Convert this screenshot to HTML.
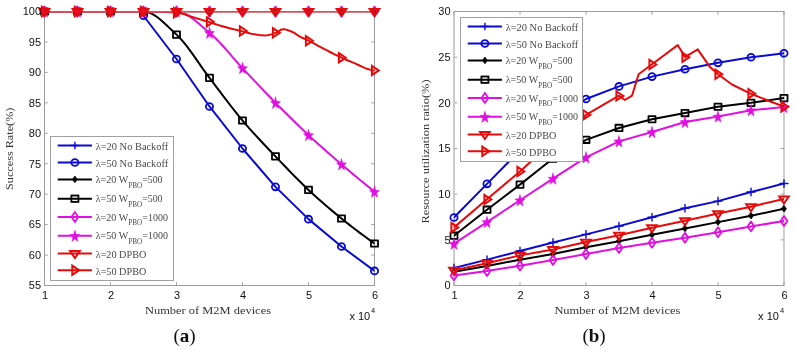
<!DOCTYPE html><html><head><meta charset="utf-8"><style>html,body{margin:0;padding:0;background:#fff;}svg{display:block;will-change:transform;}</style></head><body>
<svg width="795" height="350" viewBox="0 0 795 350">
<rect width="795" height="350" fill="#fff"/>
<clipPath id="ca"><rect x="44.5" y="12.6" width="330.0" height="272.9"/></clipPath>
<path d="M44.50 285.50h3.3M374.50 285.50h-3.3M44.50 255.06h3.3M374.50 255.06h-3.3M44.50 224.61h3.3M374.50 224.61h-3.3M44.50 194.17h3.3M374.50 194.17h-3.3M44.50 163.72h3.3M374.50 163.72h-3.3M44.50 133.28h3.3M374.50 133.28h-3.3M44.50 102.83h3.3M374.50 102.83h-3.3M44.50 72.39h3.3M374.50 72.39h-3.3M44.50 41.94h3.3M374.50 41.94h-3.3M44.50 11.50h3.3M374.50 11.50h-3.3M44.50 285.50v-3.3M44.50 11.50v3.3M110.50 285.50v-3.3M110.50 11.50v3.3M176.50 285.50v-3.3M176.50 11.50v3.3M242.50 285.50v-3.3M242.50 11.50v3.3M308.50 285.50v-3.3M308.50 11.50v3.3M374.50 285.50v-3.3M374.50 11.50v3.3" stroke="#999" stroke-width="0.9" fill="none"/>
<rect x="44.5" y="11.5" width="330.0" height="274.0" fill="none" stroke="#9c9c9c" stroke-width="1"/>
<g stroke-linejoin="round" stroke-linecap="round">
<path d="M40.50 11.50H48.50M44.50 7.70V15.30" stroke="#0a0ad2" stroke-width="1.4" fill="none"/>
<path d="M73.50 11.50H81.50M77.50 7.70V15.30" stroke="#0a0ad2" stroke-width="1.4" fill="none"/>
<path d="M106.50 11.50H114.50M110.50 7.70V15.30" stroke="#0a0ad2" stroke-width="1.4" fill="none"/>
<path d="M139.50 11.50H147.50M143.50 7.70V15.30" stroke="#0a0ad2" stroke-width="1.4" fill="none"/>
<path d="M172.50 11.50H180.50M176.50 7.70V15.30" stroke="#0a0ad2" stroke-width="1.4" fill="none"/>
<path d="M205.50 11.50H213.50M209.50 7.70V15.30" stroke="#0a0ad2" stroke-width="1.4" fill="none"/>
<path d="M238.50 11.50H246.50M242.50 7.70V15.30" stroke="#0a0ad2" stroke-width="1.4" fill="none"/>
<path d="M271.50 11.50H279.50M275.50 7.70V15.30" stroke="#0a0ad2" stroke-width="1.4" fill="none"/>
<path d="M304.50 11.50H312.50M308.50 7.70V15.30" stroke="#0a0ad2" stroke-width="1.4" fill="none"/>
<path d="M337.50 11.50H345.50M341.50 7.70V15.30" stroke="#0a0ad2" stroke-width="1.4" fill="none"/>
<path d="M370.50 11.50H378.50M374.50 7.70V15.30" stroke="#0a0ad2" stroke-width="1.4" fill="none"/>
<path clip-path="url(#ca)" d="M143.50 15.76L176.50 58.99L209.50 106.49L242.50 148.50L275.50 186.86L308.50 219.13L341.50 246.53L374.50 270.89" stroke="#0a0ad2" stroke-width="2.0" fill="none"/>
<ellipse cx="44.50" cy="11.50" rx="3.6" ry="3.4" stroke="#0a0ad2" stroke-width="1.8" fill="none"/>
<ellipse cx="77.50" cy="11.50" rx="3.6" ry="3.4" stroke="#0a0ad2" stroke-width="1.8" fill="none"/>
<ellipse cx="110.50" cy="11.50" rx="3.6" ry="3.4" stroke="#0a0ad2" stroke-width="1.8" fill="none"/>
<ellipse cx="143.50" cy="15.76" rx="3.6" ry="3.4" stroke="#0a0ad2" stroke-width="1.8" fill="none"/>
<ellipse cx="176.50" cy="58.99" rx="3.6" ry="3.4" stroke="#0a0ad2" stroke-width="1.8" fill="none"/>
<ellipse cx="209.50" cy="106.49" rx="3.6" ry="3.4" stroke="#0a0ad2" stroke-width="1.8" fill="none"/>
<ellipse cx="242.50" cy="148.50" rx="3.6" ry="3.4" stroke="#0a0ad2" stroke-width="1.8" fill="none"/>
<ellipse cx="275.50" cy="186.86" rx="3.6" ry="3.4" stroke="#0a0ad2" stroke-width="1.8" fill="none"/>
<ellipse cx="308.50" cy="219.13" rx="3.6" ry="3.4" stroke="#0a0ad2" stroke-width="1.8" fill="none"/>
<ellipse cx="341.50" cy="246.53" rx="3.6" ry="3.4" stroke="#0a0ad2" stroke-width="1.8" fill="none"/>
<ellipse cx="374.50" cy="270.89" rx="3.6" ry="3.4" stroke="#0a0ad2" stroke-width="1.8" fill="none"/>
<path d="M44.50 8.20L46.90 11.50L44.50 14.80L42.10 11.50Z" fill="#000000" stroke="#000000" stroke-width="0.8"/>
<path d="M77.50 8.20L79.90 11.50L77.50 14.80L75.10 11.50Z" fill="#000000" stroke="#000000" stroke-width="0.8"/>
<path d="M110.50 8.20L112.90 11.50L110.50 14.80L108.10 11.50Z" fill="#000000" stroke="#000000" stroke-width="0.8"/>
<path d="M143.50 8.20L145.90 11.50L143.50 14.80L141.10 11.50Z" fill="#000000" stroke="#000000" stroke-width="0.8"/>
<path d="M176.50 8.20L178.90 11.50L176.50 14.80L174.10 11.50Z" fill="#000000" stroke="#000000" stroke-width="0.8"/>
<path d="M209.50 8.20L211.90 11.50L209.50 14.80L207.10 11.50Z" fill="#000000" stroke="#000000" stroke-width="0.8"/>
<path d="M242.50 8.20L244.90 11.50L242.50 14.80L240.10 11.50Z" fill="#000000" stroke="#000000" stroke-width="0.8"/>
<path d="M275.50 8.20L277.90 11.50L275.50 14.80L273.10 11.50Z" fill="#000000" stroke="#000000" stroke-width="0.8"/>
<path d="M308.50 8.20L310.90 11.50L308.50 14.80L306.10 11.50Z" fill="#000000" stroke="#000000" stroke-width="0.8"/>
<path d="M341.50 8.20L343.90 11.50L341.50 14.80L339.10 11.50Z" fill="#000000" stroke="#000000" stroke-width="0.8"/>
<path d="M374.50 8.20L376.90 11.50L374.50 14.80L372.10 11.50Z" fill="#000000" stroke="#000000" stroke-width="0.8"/>
<path clip-path="url(#ca)" d="M44.50 11.50L47.80 11.50L51.10 11.50L54.40 11.50L57.70 11.50L61.00 11.50L64.30 11.50L67.60 11.50L70.90 11.50L74.20 11.50L77.50 11.50L80.80 11.50L84.10 11.50L87.40 11.50L90.70 11.50L94.00 11.50L97.30 11.50L100.60 11.50L103.90 11.50L107.20 11.50L110.50 11.50L113.80 11.50L117.10 11.50L120.40 11.50L123.70 11.50L127.00 11.50L130.30 11.50L133.60 11.50L136.90 11.50L140.20 11.50L143.50 11.50L146.80 11.88L150.10 12.94L153.40 14.60L156.70 16.75L160.00 19.30L163.30 22.15L166.60 25.21L169.90 28.37L173.20 31.55L176.50 34.64L179.80 37.90L183.10 41.62L186.40 45.70L189.70 50.07L193.00 54.66L196.30 59.36L199.60 64.12L202.90 68.84L206.20 73.45L209.50 77.87L212.80 82.19L216.10 86.55L219.40 90.93L222.70 95.31L226.00 99.67L229.30 103.99L232.60 108.26L235.90 112.44L239.20 116.53L242.50 120.49L245.80 124.34L249.10 128.11L252.40 131.80L255.70 135.42L259.00 138.99L262.30 142.52L265.60 146.02L268.90 149.49L272.20 152.95L275.50 156.42L278.80 159.88L282.10 163.35L285.40 166.80L288.70 170.23L292.00 173.64L295.30 177.00L298.60 180.32L301.90 183.58L305.20 186.78L308.50 189.90L311.80 192.97L315.10 195.98L318.40 198.94L321.70 201.86L325.00 204.74L328.30 207.57L331.60 210.37L334.90 213.12L338.20 215.84L341.50 218.52L345.17 221.47L348.83 224.37L352.50 227.23L356.17 230.05L359.83 232.83L363.50 235.56L367.17 238.25L370.83 240.89L374.50 243.49" stroke="#000000" stroke-width="2.0" fill="none"/>
<rect x="41.00" y="8.30" width="7" height="6.4" stroke="#000000" stroke-width="1.8" fill="none"/>
<rect x="74.00" y="8.30" width="7" height="6.4" stroke="#000000" stroke-width="1.8" fill="none"/>
<rect x="107.00" y="8.30" width="7" height="6.4" stroke="#000000" stroke-width="1.8" fill="none"/>
<rect x="140.00" y="8.30" width="7" height="6.4" stroke="#000000" stroke-width="1.8" fill="none"/>
<rect x="173.00" y="31.44" width="7" height="6.4" stroke="#000000" stroke-width="1.8" fill="none"/>
<rect x="206.00" y="74.67" width="7" height="6.4" stroke="#000000" stroke-width="1.8" fill="none"/>
<rect x="239.00" y="117.29" width="7" height="6.4" stroke="#000000" stroke-width="1.8" fill="none"/>
<rect x="272.00" y="153.22" width="7" height="6.4" stroke="#000000" stroke-width="1.8" fill="none"/>
<rect x="305.00" y="186.70" width="7" height="6.4" stroke="#000000" stroke-width="1.8" fill="none"/>
<rect x="338.00" y="215.32" width="7" height="6.4" stroke="#000000" stroke-width="1.8" fill="none"/>
<rect x="371.00" y="240.29" width="7" height="6.4" stroke="#000000" stroke-width="1.8" fill="none"/>
<path d="M44.50 6.60L47.90 11.50L44.50 16.40L41.10 11.50Z" fill="none" stroke="#e010e0" stroke-width="1.8"/>
<path d="M77.50 6.60L80.90 11.50L77.50 16.40L74.10 11.50Z" fill="none" stroke="#e010e0" stroke-width="1.8"/>
<path d="M110.50 6.60L113.90 11.50L110.50 16.40L107.10 11.50Z" fill="none" stroke="#e010e0" stroke-width="1.8"/>
<path d="M143.50 6.60L146.90 11.50L143.50 16.40L140.10 11.50Z" fill="none" stroke="#e010e0" stroke-width="1.8"/>
<path d="M176.50 6.60L179.90 11.50L176.50 16.40L173.10 11.50Z" fill="none" stroke="#e010e0" stroke-width="1.8"/>
<path d="M209.50 6.60L212.90 11.50L209.50 16.40L206.10 11.50Z" fill="none" stroke="#e010e0" stroke-width="1.8"/>
<path d="M242.50 6.60L245.90 11.50L242.50 16.40L239.10 11.50Z" fill="none" stroke="#e010e0" stroke-width="1.8"/>
<path d="M275.50 6.60L278.90 11.50L275.50 16.40L272.10 11.50Z" fill="none" stroke="#e010e0" stroke-width="1.8"/>
<path d="M308.50 6.60L311.90 11.50L308.50 16.40L305.10 11.50Z" fill="none" stroke="#e010e0" stroke-width="1.8"/>
<path d="M341.50 6.60L344.90 11.50L341.50 16.40L338.10 11.50Z" fill="none" stroke="#e010e0" stroke-width="1.8"/>
<path d="M374.50 6.60L377.90 11.50L374.50 16.40L371.10 11.50Z" fill="none" stroke="#e010e0" stroke-width="1.8"/>
<path clip-path="url(#ca)" d="M44.50 11.50L47.80 11.50L51.10 11.50L54.40 11.50L57.70 11.50L61.00 11.50L64.30 11.50L67.60 11.50L70.90 11.50L74.20 11.50L77.50 11.50L80.80 11.50L84.10 11.50L87.40 11.50L90.70 11.50L94.00 11.50L97.30 11.50L100.60 11.50L103.90 11.50L107.20 11.50L110.50 11.50L113.80 11.50L117.10 11.50L120.40 11.50L123.70 11.50L127.00 11.50L130.30 11.50L133.60 11.50L136.90 11.50L140.20 11.50L143.50 11.50L146.80 11.50L150.10 11.50L153.40 11.50L156.70 11.50L160.00 11.50L163.30 11.50L166.60 11.50L169.90 11.50L173.20 11.50L176.50 11.50L179.80 11.86L183.10 12.87L186.40 14.43L189.70 16.45L193.00 18.83L196.30 21.48L199.60 24.30L202.90 27.19L206.20 30.06L209.50 32.81L212.80 35.64L216.10 38.77L219.40 42.14L222.70 45.71L226.00 49.42L229.30 53.21L232.60 57.03L235.90 60.82L239.20 64.54L242.50 68.13L245.80 71.63L249.10 75.15L252.40 78.66L255.70 82.17L259.00 85.68L262.30 89.16L265.60 92.63L268.90 96.06L272.20 99.47L275.50 102.83L278.80 106.17L282.10 109.49L285.40 112.79L288.70 116.06L292.00 119.32L295.30 122.54L298.60 125.73L301.90 128.89L305.20 132.02L308.50 135.10L311.80 138.15L315.10 141.17L318.40 144.14L321.70 147.09L325.00 150.02L328.30 152.92L331.60 155.79L334.90 158.65L338.20 161.50L341.50 164.33L345.17 167.46L348.83 170.57L352.50 173.66L356.17 176.73L359.83 179.78L363.50 182.80L367.17 185.80L370.83 188.78L374.50 191.73" stroke="#e010e0" stroke-width="2.0" fill="none"/>
<path d="M44.50 5.90L45.78 9.99L49.45 10.18L46.58 12.90L47.56 17.12L44.50 14.70L41.44 17.12L42.42 12.90L39.55 10.18L43.22 9.99Z" fill="#e010e0" stroke="#e010e0" stroke-width="0.5"/>
<path d="M77.50 5.90L78.78 9.99L82.45 10.18L79.58 12.90L80.56 17.12L77.50 14.70L74.44 17.12L75.42 12.90L72.55 10.18L76.22 9.99Z" fill="#e010e0" stroke="#e010e0" stroke-width="0.5"/>
<path d="M110.50 5.90L111.78 9.99L115.45 10.18L112.58 12.90L113.56 17.12L110.50 14.70L107.44 17.12L108.42 12.90L105.55 10.18L109.22 9.99Z" fill="#e010e0" stroke="#e010e0" stroke-width="0.5"/>
<path d="M143.50 5.90L144.78 9.99L148.45 10.18L145.58 12.90L146.56 17.12L143.50 14.70L140.44 17.12L141.42 12.90L138.55 10.18L142.22 9.99Z" fill="#e010e0" stroke="#e010e0" stroke-width="0.5"/>
<path d="M176.50 5.90L177.78 9.99L181.45 10.18L178.58 12.90L179.56 17.12L176.50 14.70L173.44 17.12L174.42 12.90L171.55 10.18L175.22 9.99Z" fill="#e010e0" stroke="#e010e0" stroke-width="0.5"/>
<path d="M209.50 27.21L210.78 31.30L214.45 31.50L211.58 34.22L212.56 38.43L209.50 36.02L206.44 38.43L207.42 34.22L204.55 31.50L208.22 31.30Z" fill="#e010e0" stroke="#e010e0" stroke-width="0.5"/>
<path d="M242.50 62.53L243.78 66.62L247.45 66.81L244.58 69.53L245.56 73.74L242.50 71.33L239.44 73.74L240.42 69.53L237.55 66.81L241.22 66.62Z" fill="#e010e0" stroke="#e010e0" stroke-width="0.5"/>
<path d="M275.50 97.23L276.78 101.33L280.45 101.52L277.58 104.24L278.56 108.45L275.50 106.04L272.44 108.45L273.42 104.24L270.55 101.52L274.22 101.33Z" fill="#e010e0" stroke="#e010e0" stroke-width="0.5"/>
<path d="M308.50 129.50L309.78 133.60L313.45 133.79L310.58 136.51L311.56 140.72L308.50 138.31L305.44 140.72L306.42 136.51L303.55 133.79L307.22 133.60Z" fill="#e010e0" stroke="#e010e0" stroke-width="0.5"/>
<path d="M341.50 158.73L342.78 162.82L346.45 163.02L343.58 165.74L344.56 169.95L341.50 167.54L338.44 169.95L339.42 165.74L336.55 163.02L340.22 162.82Z" fill="#e010e0" stroke="#e010e0" stroke-width="0.5"/>
<path d="M374.50 186.13L375.78 190.22L379.45 190.42L376.58 193.14L377.56 197.35L374.50 194.94L371.44 197.35L372.42 193.14L369.55 190.42L373.22 190.22Z" fill="#e010e0" stroke="#e010e0" stroke-width="0.5"/>
<path d="M44.5 11.9H374.5" stroke="#d65058" stroke-width="1.6" stroke-linecap="butt"/>
<path d="M39.70 9.10H49.30L44.50 16.10Z" fill="#e0101a" fill-opacity="0.82" stroke="#e60a0a" stroke-width="2.0" stroke-linejoin="miter"/>
<path d="M72.70 9.10H82.30L77.50 16.10Z" fill="#e0101a" fill-opacity="0.82" stroke="#e60a0a" stroke-width="2.0" stroke-linejoin="miter"/>
<path d="M105.70 9.10H115.30L110.50 16.10Z" fill="#e0101a" fill-opacity="0.82" stroke="#e60a0a" stroke-width="2.0" stroke-linejoin="miter"/>
<path d="M138.70 9.10H148.30L143.50 16.10Z" fill="#e0101a" fill-opacity="0.82" stroke="#e60a0a" stroke-width="2.0" stroke-linejoin="miter"/>
<path d="M171.70 9.10H181.30L176.50 16.10Z" fill="#e0101a" fill-opacity="0.82" stroke="#e60a0a" stroke-width="2.0" stroke-linejoin="miter"/>
<path d="M204.70 9.10H214.30L209.50 16.10Z" fill="#e0101a" fill-opacity="0.82" stroke="#e60a0a" stroke-width="2.0" stroke-linejoin="miter"/>
<path d="M237.70 9.10H247.30L242.50 16.10Z" fill="#e0101a" fill-opacity="0.82" stroke="#e60a0a" stroke-width="2.0" stroke-linejoin="miter"/>
<path d="M270.70 9.10H280.30L275.50 16.10Z" fill="#e0101a" fill-opacity="0.82" stroke="#e60a0a" stroke-width="2.0" stroke-linejoin="miter"/>
<path d="M303.70 9.10H313.30L308.50 16.10Z" fill="#e0101a" fill-opacity="0.82" stroke="#e60a0a" stroke-width="2.0" stroke-linejoin="miter"/>
<path d="M336.70 9.10H346.30L341.50 16.10Z" fill="#e0101a" fill-opacity="0.82" stroke="#e60a0a" stroke-width="2.0" stroke-linejoin="miter"/>
<path d="M369.70 9.10H379.30L374.50 16.10Z" fill="#e0101a" fill-opacity="0.82" stroke="#e60a0a" stroke-width="2.0" stroke-linejoin="miter"/>
<path clip-path="url(#ca)" d="M44.50 11.50L61.00 11.50L77.50 11.50L94.00 11.50L110.50 11.50L127.00 11.50L143.50 11.50L149.00 11.54L154.50 11.64L160.00 11.81L165.50 12.05L171.00 12.34L176.50 12.70L179.17 13.04L181.83 13.64L184.50 14.41L187.17 15.28L189.83 16.17L192.50 17.00L195.33 17.84L198.17 18.71L201.00 19.61L203.83 20.52L206.67 21.42L209.50 22.30L212.25 23.15L215.00 24.01L217.75 24.87L220.50 25.71L223.25 26.53L226.00 27.30L228.75 28.03L231.50 28.73L234.25 29.40L237.00 30.06L239.75 30.73L242.50 31.40L244.25 31.86L246.00 32.34L247.75 32.82L249.50 33.27L251.25 33.67L253.00 34.00L255.00 34.33L257.00 34.65L259.00 34.94L261.00 35.18L263.00 35.34L265.00 35.40L266.75 35.30L268.50 35.03L270.25 34.62L272.00 34.12L273.75 33.57L275.50 33.00L276.75 32.44L278.00 31.66L279.25 30.80L280.50 30.01L281.75 29.43L283.00 29.20L284.50 29.31L286.00 29.61L287.50 30.06L289.00 30.60L290.50 31.20L292.00 31.80L293.33 32.42L294.67 33.20L296.00 34.06L297.33 34.96L298.67 35.83L300.00 36.60L301.42 37.32L302.83 37.99L304.25 38.63L305.67 39.27L307.08 39.92L308.50 40.60L310.92 41.84L313.33 43.13L315.75 44.46L318.17 45.79L320.58 47.11L323.00 48.40L324.50 49.18L326.00 49.95L327.50 50.72L329.00 51.49L330.50 52.24L332.00 53.00L333.58 53.80L335.17 54.60L336.75 55.40L338.33 56.19L339.92 56.96L341.50 57.70L344.08 58.86L346.67 59.96L349.25 61.04L351.83 62.10L354.42 63.18L357.00 64.30L358.50 65.00L360.00 65.73L361.50 66.48L363.00 67.19L364.50 67.85L366.00 68.40L367.70 68.94L369.40 69.44L371.10 69.89L372.80 70.28L374.50 70.60" stroke="#e60a0a" stroke-width="2.0" fill="none"/>
<path d="M41.90 6.90V16.10L48.80 11.50Z" fill="none" stroke="#e60a0a" stroke-width="2.0" stroke-linejoin="miter"/>
<path d="M74.90 6.90V16.10L81.80 11.50Z" fill="none" stroke="#e60a0a" stroke-width="2.0" stroke-linejoin="miter"/>
<path d="M107.90 6.90V16.10L114.80 11.50Z" fill="none" stroke="#e60a0a" stroke-width="2.0" stroke-linejoin="miter"/>
<path d="M140.90 6.90V16.10L147.80 11.50Z" fill="none" stroke="#e60a0a" stroke-width="2.0" stroke-linejoin="miter"/>
<path d="M173.90 8.12V17.32L180.80 12.72Z" fill="none" stroke="#e60a0a" stroke-width="2.0" stroke-linejoin="miter"/>
<path d="M206.90 17.25V26.45L213.80 21.85Z" fill="none" stroke="#e60a0a" stroke-width="2.0" stroke-linejoin="miter"/>
<path d="M239.90 26.38V35.58L246.80 30.98Z" fill="none" stroke="#e60a0a" stroke-width="2.0" stroke-linejoin="miter"/>
<path d="M272.90 28.21V37.41L279.80 32.81Z" fill="none" stroke="#e60a0a" stroke-width="2.0" stroke-linejoin="miter"/>
<path d="M305.90 36.13V45.33L312.80 40.73Z" fill="none" stroke="#e60a0a" stroke-width="2.0" stroke-linejoin="miter"/>
<path d="M338.90 53.18V62.38L345.80 57.78Z" fill="none" stroke="#e60a0a" stroke-width="2.0" stroke-linejoin="miter"/>
<path d="M371.90 65.96V75.16L378.80 70.56Z" fill="none" stroke="#e60a0a" stroke-width="2.0" stroke-linejoin="miter"/>
</g>
<clipPath id="cb"><rect x="454.0" y="11.5" width="330.0" height="274.0"/></clipPath>
<path d="M454.00 285.50h3.3M784.00 285.50h-3.3M454.00 239.83h3.3M784.00 239.83h-3.3M454.00 194.17h3.3M784.00 194.17h-3.3M454.00 148.50h3.3M784.00 148.50h-3.3M454.00 102.83h3.3M784.00 102.83h-3.3M454.00 57.17h3.3M784.00 57.17h-3.3M454.00 11.50h3.3M784.00 11.50h-3.3M454.00 285.50v-3.3M454.00 11.50v3.3M520.00 285.50v-3.3M520.00 11.50v3.3M586.00 285.50v-3.3M586.00 11.50v3.3M652.00 285.50v-3.3M652.00 11.50v3.3M718.00 285.50v-3.3M718.00 11.50v3.3M784.00 285.50v-3.3M784.00 11.50v3.3" stroke="#999" stroke-width="0.9" fill="none"/>
<rect x="454.0" y="11.5" width="330.0" height="274.0" fill="none" stroke="#9c9c9c" stroke-width="1"/>
<g stroke-linejoin="round" stroke-linecap="round">
<path clip-path="url(#cb)" d="M454.00 267.96L487.00 259.65L520.00 251.07L553.00 242.57L586.00 234.35L619.00 226.13L652.00 217.18L685.00 208.23L718.00 201.11L751.00 192.07L784.00 183.48" stroke="#0a0ad2" stroke-width="2.0" fill="none"/>
<path d="M450.00 267.96H458.00M454.00 264.16V271.76" stroke="#0a0ad2" stroke-width="1.4" fill="none"/>
<path d="M483.00 259.65H491.00M487.00 255.85V263.45" stroke="#0a0ad2" stroke-width="1.4" fill="none"/>
<path d="M516.00 251.07H524.00M520.00 247.27V254.87" stroke="#0a0ad2" stroke-width="1.4" fill="none"/>
<path d="M549.00 242.57H557.00M553.00 238.77V246.37" stroke="#0a0ad2" stroke-width="1.4" fill="none"/>
<path d="M582.00 234.35H590.00M586.00 230.55V238.15" stroke="#0a0ad2" stroke-width="1.4" fill="none"/>
<path d="M615.00 226.13H623.00M619.00 222.33V229.93" stroke="#0a0ad2" stroke-width="1.4" fill="none"/>
<path d="M648.00 217.18H656.00M652.00 213.38V220.98" stroke="#0a0ad2" stroke-width="1.4" fill="none"/>
<path d="M681.00 208.23H689.00M685.00 204.43V212.03" stroke="#0a0ad2" stroke-width="1.4" fill="none"/>
<path d="M714.00 201.11H722.00M718.00 197.31V204.91" stroke="#0a0ad2" stroke-width="1.4" fill="none"/>
<path d="M747.00 192.07H755.00M751.00 188.27V195.87" stroke="#0a0ad2" stroke-width="1.4" fill="none"/>
<path d="M780.00 183.48H788.00M784.00 179.68V187.28" stroke="#0a0ad2" stroke-width="1.4" fill="none"/>
<path clip-path="url(#cb)" d="M454.00 217.46L487.00 183.85L520.00 150.33L553.00 119.27L586.00 99.00L619.00 86.39L652.00 76.62L685.00 69.22L718.00 62.83L751.00 57.26L784.00 53.24" stroke="#0a0ad2" stroke-width="2.0" fill="none"/>
<ellipse cx="454.00" cy="217.46" rx="3.6" ry="3.4" stroke="#0a0ad2" stroke-width="1.8" fill="none"/>
<ellipse cx="487.00" cy="183.85" rx="3.6" ry="3.4" stroke="#0a0ad2" stroke-width="1.8" fill="none"/>
<ellipse cx="520.00" cy="150.33" rx="3.6" ry="3.4" stroke="#0a0ad2" stroke-width="1.8" fill="none"/>
<ellipse cx="553.00" cy="119.27" rx="3.6" ry="3.4" stroke="#0a0ad2" stroke-width="1.8" fill="none"/>
<ellipse cx="586.00" cy="99.00" rx="3.6" ry="3.4" stroke="#0a0ad2" stroke-width="1.8" fill="none"/>
<ellipse cx="619.00" cy="86.39" rx="3.6" ry="3.4" stroke="#0a0ad2" stroke-width="1.8" fill="none"/>
<ellipse cx="652.00" cy="76.62" rx="3.6" ry="3.4" stroke="#0a0ad2" stroke-width="1.8" fill="none"/>
<ellipse cx="685.00" cy="69.22" rx="3.6" ry="3.4" stroke="#0a0ad2" stroke-width="1.8" fill="none"/>
<ellipse cx="718.00" cy="62.83" rx="3.6" ry="3.4" stroke="#0a0ad2" stroke-width="1.8" fill="none"/>
<ellipse cx="751.00" cy="57.26" rx="3.6" ry="3.4" stroke="#0a0ad2" stroke-width="1.8" fill="none"/>
<ellipse cx="784.00" cy="53.24" rx="3.6" ry="3.4" stroke="#0a0ad2" stroke-width="1.8" fill="none"/>
<path clip-path="url(#cb)" d="M454.00 271.80L487.00 266.05L520.00 259.65L553.00 254.08L586.00 247.23L619.00 241.20L652.00 234.81L685.00 228.51L718.00 222.11L751.00 215.72L784.00 208.78" stroke="#000000" stroke-width="2.0" fill="none"/>
<path d="M454.00 268.50L456.40 271.80L454.00 275.10L451.60 271.80Z" fill="#000000" stroke="#000000" stroke-width="0.8"/>
<path d="M487.00 262.75L489.40 266.05L487.00 269.35L484.60 266.05Z" fill="#000000" stroke="#000000" stroke-width="0.8"/>
<path d="M520.00 256.35L522.40 259.65L520.00 262.95L517.60 259.65Z" fill="#000000" stroke="#000000" stroke-width="0.8"/>
<path d="M553.00 250.78L555.40 254.08L553.00 257.38L550.60 254.08Z" fill="#000000" stroke="#000000" stroke-width="0.8"/>
<path d="M586.00 243.93L588.40 247.23L586.00 250.53L583.60 247.23Z" fill="#000000" stroke="#000000" stroke-width="0.8"/>
<path d="M619.00 237.90L621.40 241.20L619.00 244.50L616.60 241.20Z" fill="#000000" stroke="#000000" stroke-width="0.8"/>
<path d="M652.00 231.51L654.40 234.81L652.00 238.11L649.60 234.81Z" fill="#000000" stroke="#000000" stroke-width="0.8"/>
<path d="M685.00 225.21L687.40 228.51L685.00 231.81L682.60 228.51Z" fill="#000000" stroke="#000000" stroke-width="0.8"/>
<path d="M718.00 218.81L720.40 222.11L718.00 225.41L715.60 222.11Z" fill="#000000" stroke="#000000" stroke-width="0.8"/>
<path d="M751.00 212.42L753.40 215.72L751.00 219.02L748.60 215.72Z" fill="#000000" stroke="#000000" stroke-width="0.8"/>
<path d="M784.00 205.48L786.40 208.78L784.00 212.08L781.60 208.78Z" fill="#000000" stroke="#000000" stroke-width="0.8"/>
<path clip-path="url(#cb)" d="M454.00 235.72L487.00 209.69L520.00 184.58L553.00 158.55L586.00 139.82L619.00 127.95L652.00 119.27L685.00 113.06L718.00 106.76L751.00 102.83L784.00 98.08" stroke="#000000" stroke-width="2.0" fill="none"/>
<rect x="450.50" y="232.52" width="7" height="6.4" stroke="#000000" stroke-width="1.8" fill="none"/>
<rect x="483.50" y="206.49" width="7" height="6.4" stroke="#000000" stroke-width="1.8" fill="none"/>
<rect x="516.50" y="181.38" width="7" height="6.4" stroke="#000000" stroke-width="1.8" fill="none"/>
<rect x="549.50" y="155.35" width="7" height="6.4" stroke="#000000" stroke-width="1.8" fill="none"/>
<rect x="582.50" y="136.62" width="7" height="6.4" stroke="#000000" stroke-width="1.8" fill="none"/>
<rect x="615.50" y="124.75" width="7" height="6.4" stroke="#000000" stroke-width="1.8" fill="none"/>
<rect x="648.50" y="116.07" width="7" height="6.4" stroke="#000000" stroke-width="1.8" fill="none"/>
<rect x="681.50" y="109.86" width="7" height="6.4" stroke="#000000" stroke-width="1.8" fill="none"/>
<rect x="714.50" y="103.56" width="7" height="6.4" stroke="#000000" stroke-width="1.8" fill="none"/>
<rect x="747.50" y="99.63" width="7" height="6.4" stroke="#000000" stroke-width="1.8" fill="none"/>
<rect x="780.50" y="94.88" width="7" height="6.4" stroke="#000000" stroke-width="1.8" fill="none"/>
<path clip-path="url(#cb)" d="M454.00 275.45L487.00 271.07L520.00 265.68L553.00 260.11L586.00 254.08L619.00 248.05L652.00 242.76L685.00 237.73L718.00 232.25L751.00 226.41L784.00 221.02" stroke="#e010e0" stroke-width="2.0" fill="none"/>
<path d="M454.00 270.55L457.40 275.45L454.00 280.35L450.60 275.45Z" fill="none" stroke="#e010e0" stroke-width="1.8"/>
<path d="M487.00 266.17L490.40 271.07L487.00 275.97L483.60 271.07Z" fill="none" stroke="#e010e0" stroke-width="1.8"/>
<path d="M520.00 260.78L523.40 265.68L520.00 270.58L516.60 265.68Z" fill="none" stroke="#e010e0" stroke-width="1.8"/>
<path d="M553.00 255.21L556.40 260.11L553.00 265.01L549.60 260.11Z" fill="none" stroke="#e010e0" stroke-width="1.8"/>
<path d="M586.00 249.18L589.40 254.08L586.00 258.98L582.60 254.08Z" fill="none" stroke="#e010e0" stroke-width="1.8"/>
<path d="M619.00 243.15L622.40 248.05L619.00 252.95L615.60 248.05Z" fill="none" stroke="#e010e0" stroke-width="1.8"/>
<path d="M652.00 237.86L655.40 242.76L652.00 247.66L648.60 242.76Z" fill="none" stroke="#e010e0" stroke-width="1.8"/>
<path d="M685.00 232.83L688.40 237.73L685.00 242.63L681.60 237.73Z" fill="none" stroke="#e010e0" stroke-width="1.8"/>
<path d="M718.00 227.35L721.40 232.25L718.00 237.15L714.60 232.25Z" fill="none" stroke="#e010e0" stroke-width="1.8"/>
<path d="M751.00 221.51L754.40 226.41L751.00 231.31L747.60 226.41Z" fill="none" stroke="#e010e0" stroke-width="1.8"/>
<path d="M784.00 216.12L787.40 221.02L784.00 225.92L780.60 221.02Z" fill="none" stroke="#e010e0" stroke-width="1.8"/>
<path clip-path="url(#cb)" d="M454.00 243.76L487.00 222.11L520.00 200.29L553.00 178.64L586.00 157.45L619.00 141.38L652.00 132.06L685.00 122.01L718.00 116.53L751.00 110.32L784.00 107.03" stroke="#e010e0" stroke-width="2.0" fill="none"/>
<path d="M454.00 238.16L455.28 242.25L458.95 242.44L456.08 245.17L457.06 249.38L454.00 246.96L450.94 249.38L451.92 245.17L449.05 242.44L452.72 242.25Z" fill="#e010e0" stroke="#e010e0" stroke-width="0.5"/>
<path d="M487.00 216.51L488.28 220.61L491.95 220.80L489.08 223.52L490.06 227.73L487.00 225.32L483.94 227.73L484.92 223.52L482.05 220.80L485.72 220.61Z" fill="#e010e0" stroke="#e010e0" stroke-width="0.5"/>
<path d="M520.00 194.69L521.28 198.78L524.95 198.97L522.08 201.69L523.06 205.90L520.00 203.49L516.94 205.90L517.92 201.69L515.05 198.97L518.72 198.78Z" fill="#e010e0" stroke="#e010e0" stroke-width="0.5"/>
<path d="M553.00 173.04L554.28 177.13L557.95 177.32L555.08 180.04L556.06 184.26L553.00 181.84L549.94 184.26L550.92 180.04L548.05 177.32L551.72 177.13Z" fill="#e010e0" stroke="#e010e0" stroke-width="0.5"/>
<path d="M586.00 151.85L587.28 155.94L590.95 156.13L588.08 158.86L589.06 163.07L586.00 160.65L582.94 163.07L583.92 158.86L581.05 156.13L584.72 155.94Z" fill="#e010e0" stroke="#e010e0" stroke-width="0.5"/>
<path d="M619.00 135.78L620.28 139.87L623.95 140.06L621.08 142.78L622.06 146.99L619.00 144.58L615.94 146.99L616.92 142.78L614.05 140.06L617.72 139.87Z" fill="#e010e0" stroke="#e010e0" stroke-width="0.5"/>
<path d="M652.00 126.46L653.28 130.55L656.95 130.74L654.08 133.46L655.06 137.68L652.00 135.26L648.94 137.68L649.92 133.46L647.05 130.74L650.72 130.55Z" fill="#e010e0" stroke="#e010e0" stroke-width="0.5"/>
<path d="M685.00 116.41L686.28 120.51L689.95 120.70L687.08 123.42L688.06 127.63L685.00 125.22L681.94 127.63L682.92 123.42L680.05 120.70L683.72 120.51Z" fill="#e010e0" stroke="#e010e0" stroke-width="0.5"/>
<path d="M718.00 110.93L719.28 115.03L722.95 115.22L720.08 117.94L721.06 122.15L718.00 119.74L714.94 122.15L715.92 117.94L713.05 115.22L716.72 115.03Z" fill="#e010e0" stroke="#e010e0" stroke-width="0.5"/>
<path d="M751.00 104.72L752.28 108.82L755.95 109.01L753.08 111.73L754.06 115.94L751.00 113.53L747.94 115.94L748.92 111.73L746.05 109.01L749.72 108.82Z" fill="#e010e0" stroke="#e010e0" stroke-width="0.5"/>
<path d="M784.00 101.43L785.28 105.53L788.95 105.72L786.08 108.44L787.06 112.65L784.00 110.24L780.94 112.65L781.92 108.44L779.05 105.72L782.72 105.53Z" fill="#e010e0" stroke="#e010e0" stroke-width="0.5"/>
<path clip-path="url(#cb)" d="M454.00 270.16L487.00 263.21L520.00 255.36L553.00 249.42L586.00 242.03L619.00 235.27L652.00 227.69L685.00 220.65L718.00 213.53L751.00 206.68L784.00 198.92" stroke="#e60a0a" stroke-width="2.0" fill="none"/>
<path d="M449.20 267.76H458.80L454.00 274.76Z" fill="none" stroke="#e60a0a" stroke-width="2.0" stroke-linejoin="miter"/>
<path d="M482.20 260.81H491.80L487.00 267.81Z" fill="none" stroke="#e60a0a" stroke-width="2.0" stroke-linejoin="miter"/>
<path d="M515.20 252.96H524.80L520.00 259.96Z" fill="none" stroke="#e60a0a" stroke-width="2.0" stroke-linejoin="miter"/>
<path d="M548.20 247.02H557.80L553.00 254.02Z" fill="none" stroke="#e60a0a" stroke-width="2.0" stroke-linejoin="miter"/>
<path d="M581.20 239.63H590.80L586.00 246.63Z" fill="none" stroke="#e60a0a" stroke-width="2.0" stroke-linejoin="miter"/>
<path d="M614.20 232.87H623.80L619.00 239.87Z" fill="none" stroke="#e60a0a" stroke-width="2.0" stroke-linejoin="miter"/>
<path d="M647.20 225.29H656.80L652.00 232.29Z" fill="none" stroke="#e60a0a" stroke-width="2.0" stroke-linejoin="miter"/>
<path d="M680.20 218.25H689.80L685.00 225.25Z" fill="none" stroke="#e60a0a" stroke-width="2.0" stroke-linejoin="miter"/>
<path d="M713.20 211.13H722.80L718.00 218.13Z" fill="none" stroke="#e60a0a" stroke-width="2.0" stroke-linejoin="miter"/>
<path d="M746.20 204.28H755.80L751.00 211.28Z" fill="none" stroke="#e60a0a" stroke-width="2.0" stroke-linejoin="miter"/>
<path d="M779.20 196.52H788.80L784.00 203.52Z" fill="none" stroke="#e60a0a" stroke-width="2.0" stroke-linejoin="miter"/>
<path clip-path="url(#cb)" d="M454.00 227.40L487.00 199.30L520.00 171.40L532.00 160.50L553.00 140.00L583.00 118.60L586.00 114.90L619.00 95.70L625.00 100.00L632.00 95.70L638.60 74.30L652.00 64.30L677.70 45.10L685.00 57.10L697.70 49.40L710.00 67.10L718.00 74.30L732.00 84.50L751.00 93.80L769.00 101.00L784.00 106.50" stroke="#e60a0a" stroke-width="2.0" fill="none"/>
<path d="M451.40 222.81V232.01L458.30 227.41Z" fill="none" stroke="#e60a0a" stroke-width="2.0" stroke-linejoin="miter"/>
<path d="M484.40 194.96V204.16L491.30 199.56Z" fill="none" stroke="#e60a0a" stroke-width="2.0" stroke-linejoin="miter"/>
<path d="M517.40 166.82V176.02L524.30 171.42Z" fill="none" stroke="#e60a0a" stroke-width="2.0" stroke-linejoin="miter"/>
<path d="M550.40 136.59V145.79L557.30 141.19Z" fill="none" stroke="#e60a0a" stroke-width="2.0" stroke-linejoin="miter"/>
<path d="M583.40 110.29V119.49L590.30 114.89Z" fill="none" stroke="#e60a0a" stroke-width="2.0" stroke-linejoin="miter"/>
<path d="M616.40 91.29V100.49L623.30 95.89Z" fill="none" stroke="#e60a0a" stroke-width="2.0" stroke-linejoin="miter"/>
<path d="M649.40 59.87V69.07L656.30 64.47Z" fill="none" stroke="#e60a0a" stroke-width="2.0" stroke-linejoin="miter"/>
<path d="M682.40 52.57V61.77L689.30 57.17Z" fill="none" stroke="#e60a0a" stroke-width="2.0" stroke-linejoin="miter"/>
<path d="M715.40 69.74V78.94L722.30 74.34Z" fill="none" stroke="#e60a0a" stroke-width="2.0" stroke-linejoin="miter"/>
<path d="M748.40 89.19V98.39L755.30 93.79Z" fill="none" stroke="#e60a0a" stroke-width="2.0" stroke-linejoin="miter"/>
<path d="M781.40 102.07V111.27L788.30 106.67Z" fill="none" stroke="#e60a0a" stroke-width="2.0" stroke-linejoin="miter"/>
</g>
<g font-family="Liberation Serif" font-size="10" fill="#484848">
<rect x="50.5" y="136.5" width="123" height="144" fill="#fff" stroke="#a0a0a0" stroke-width="1"/>
<path d="M57.70 145.50H91.90" stroke="#0a0ad2" stroke-width="2.0"/>
<path d="M70.90 145.50H78.90M74.90 141.70V149.30" stroke="#0a0ad2" stroke-width="1.4" fill="none"/>
<text x="95.70" y="150.00" textLength="72.6" lengthAdjust="spacingAndGlyphs">λ=20 No Backoff</text>
<path d="M57.70 162.50H91.90" stroke="#0a0ad2" stroke-width="2.0"/>
<ellipse cx="74.90" cy="162.50" rx="3.6" ry="3.4" stroke="#0a0ad2" stroke-width="1.8" fill="none"/>
<text x="95.70" y="167.00" textLength="72.6" lengthAdjust="spacingAndGlyphs">λ=50 No Backoff</text>
<path d="M57.70 179.40H91.90" stroke="#000000" stroke-width="2.0"/>
<path d="M74.90 176.10L77.30 179.40L74.90 182.70L72.50 179.40Z" fill="#000000" stroke="#000000" stroke-width="0.8"/>
<text x="95.70" y="183.00" textLength="32.6" lengthAdjust="spacingAndGlyphs">λ=20 W</text>
<text x="128.30" y="187.50" font-size="7.6" textLength="14" lengthAdjust="spacingAndGlyphs">PBO</text>
<text x="142.30" y="183.00" textLength="20.2" lengthAdjust="spacingAndGlyphs">=500</text>
<path d="M57.70 198.70H91.90" stroke="#000000" stroke-width="2.0"/>
<rect x="71.40" y="195.50" width="7" height="6.4" stroke="#000000" stroke-width="1.8" fill="none"/>
<text x="95.70" y="202.30" textLength="32.6" lengthAdjust="spacingAndGlyphs">λ=50 W</text>
<text x="128.30" y="206.80" font-size="7.6" textLength="14" lengthAdjust="spacingAndGlyphs">PBO</text>
<text x="142.30" y="202.30" textLength="20.2" lengthAdjust="spacingAndGlyphs">=500</text>
<path d="M57.70 216.90H91.90" stroke="#e010e0" stroke-width="2.0"/>
<path d="M74.90 212.00L78.30 216.90L74.90 221.80L71.50 216.90Z" fill="none" stroke="#e010e0" stroke-width="1.8"/>
<text x="95.70" y="220.50" textLength="32.6" lengthAdjust="spacingAndGlyphs">λ=20 W</text>
<text x="128.30" y="225.00" font-size="7.6" textLength="14" lengthAdjust="spacingAndGlyphs">PBO</text>
<text x="142.30" y="220.50" textLength="25.6" lengthAdjust="spacingAndGlyphs">=1000</text>
<path d="M57.70 235.80H91.90" stroke="#e010e0" stroke-width="2.0"/>
<path d="M74.90 230.20L76.18 234.29L79.85 234.48L76.98 237.20L77.96 241.42L74.90 239.00L71.84 241.42L72.82 237.20L69.95 234.48L73.62 234.29Z" fill="#e010e0" stroke="#e010e0" stroke-width="0.5"/>
<text x="95.70" y="239.40" textLength="32.6" lengthAdjust="spacingAndGlyphs">λ=50 W</text>
<text x="128.30" y="243.90" font-size="7.6" textLength="14" lengthAdjust="spacingAndGlyphs">PBO</text>
<text x="142.30" y="239.40" textLength="25.6" lengthAdjust="spacingAndGlyphs">=1000</text>
<path d="M57.70 253.50H91.90" stroke="#e60a0a" stroke-width="2.0"/>
<path d="M70.10 251.10H79.70L74.90 258.10Z" fill="none" stroke="#e60a0a" stroke-width="2.0" stroke-linejoin="miter"/>
<text x="95.70" y="258.00" textLength="50.6" lengthAdjust="spacingAndGlyphs">λ=20 DPBO</text>
<path d="M57.70 270.30H91.90" stroke="#e60a0a" stroke-width="2.0"/>
<path d="M72.30 265.70V274.90L79.20 270.30Z" fill="none" stroke="#e60a0a" stroke-width="2.0" stroke-linejoin="miter"/>
<text x="95.70" y="274.80" textLength="50.6" lengthAdjust="spacingAndGlyphs">λ=50 DPBO</text>
<rect x="460.5" y="17.5" width="122" height="144" fill="#fff" stroke="#a0a0a0" stroke-width="1"/>
<path d="M467.70 26.50H501.90" stroke="#0a0ad2" stroke-width="2.0"/>
<path d="M480.90 26.50H488.90M484.90 22.70V30.30" stroke="#0a0ad2" stroke-width="1.4" fill="none"/>
<text x="505.70" y="31.00" textLength="72.6" lengthAdjust="spacingAndGlyphs">λ=20 No Backoff</text>
<path d="M467.70 43.50H501.90" stroke="#0a0ad2" stroke-width="2.0"/>
<ellipse cx="484.90" cy="43.50" rx="3.6" ry="3.4" stroke="#0a0ad2" stroke-width="1.8" fill="none"/>
<text x="505.70" y="48.00" textLength="72.6" lengthAdjust="spacingAndGlyphs">λ=50 No Backoff</text>
<path d="M467.70 60.40H501.90" stroke="#000000" stroke-width="2.0"/>
<path d="M484.90 57.10L487.30 60.40L484.90 63.70L482.50 60.40Z" fill="#000000" stroke="#000000" stroke-width="0.8"/>
<text x="505.70" y="64.00" textLength="32.6" lengthAdjust="spacingAndGlyphs">λ=20 W</text>
<text x="538.30" y="68.50" font-size="7.6" textLength="14" lengthAdjust="spacingAndGlyphs">PBO</text>
<text x="552.30" y="64.00" textLength="20.2" lengthAdjust="spacingAndGlyphs">=500</text>
<path d="M467.70 79.70H501.90" stroke="#000000" stroke-width="2.0"/>
<rect x="481.40" y="76.50" width="7" height="6.4" stroke="#000000" stroke-width="1.8" fill="none"/>
<text x="505.70" y="83.30" textLength="32.6" lengthAdjust="spacingAndGlyphs">λ=50 W</text>
<text x="538.30" y="87.80" font-size="7.6" textLength="14" lengthAdjust="spacingAndGlyphs">PBO</text>
<text x="552.30" y="83.30" textLength="20.2" lengthAdjust="spacingAndGlyphs">=500</text>
<path d="M467.70 97.90H501.90" stroke="#e010e0" stroke-width="2.0"/>
<path d="M484.90 93.00L488.30 97.90L484.90 102.80L481.50 97.90Z" fill="none" stroke="#e010e0" stroke-width="1.8"/>
<text x="505.70" y="101.50" textLength="32.6" lengthAdjust="spacingAndGlyphs">λ=20 W</text>
<text x="538.30" y="106.00" font-size="7.6" textLength="14" lengthAdjust="spacingAndGlyphs">PBO</text>
<text x="552.30" y="101.50" textLength="25.6" lengthAdjust="spacingAndGlyphs">=1000</text>
<path d="M467.70 116.80H501.90" stroke="#e010e0" stroke-width="2.0"/>
<path d="M484.90 111.20L486.18 115.29L489.85 115.48L486.98 118.20L487.96 122.42L484.90 120.00L481.84 122.42L482.82 118.20L479.95 115.48L483.62 115.29Z" fill="#e010e0" stroke="#e010e0" stroke-width="0.5"/>
<text x="505.70" y="120.40" textLength="32.6" lengthAdjust="spacingAndGlyphs">λ=50 W</text>
<text x="538.30" y="124.90" font-size="7.6" textLength="14" lengthAdjust="spacingAndGlyphs">PBO</text>
<text x="552.30" y="120.40" textLength="25.6" lengthAdjust="spacingAndGlyphs">=1000</text>
<path d="M467.70 134.50H501.90" stroke="#e60a0a" stroke-width="2.0"/>
<path d="M480.10 132.10H489.70L484.90 139.10Z" fill="none" stroke="#e60a0a" stroke-width="2.0" stroke-linejoin="miter"/>
<text x="505.70" y="139.00" textLength="50.6" lengthAdjust="spacingAndGlyphs">λ=20 DPBO</text>
<path d="M467.70 151.30H501.90" stroke="#e60a0a" stroke-width="2.0"/>
<path d="M482.30 146.70V155.90L489.20 151.30Z" fill="none" stroke="#e60a0a" stroke-width="2.0" stroke-linejoin="miter"/>
<text x="505.70" y="155.80" textLength="50.6" lengthAdjust="spacingAndGlyphs">λ=50 DPBO</text>
</g>
<g font-family="Liberation Sans" font-size="11" fill="#111">
<text x="41.10" y="289.30" text-anchor="end">55</text>
<text x="41.10" y="258.86" text-anchor="end">60</text>
<text x="41.10" y="228.41" text-anchor="end">65</text>
<text x="41.10" y="197.97" text-anchor="end">70</text>
<text x="41.10" y="167.52" text-anchor="end">75</text>
<text x="41.10" y="137.08" text-anchor="end">80</text>
<text x="41.10" y="106.63" text-anchor="end">85</text>
<text x="41.10" y="76.19" text-anchor="end">90</text>
<text x="41.10" y="45.74" text-anchor="end">95</text>
<text x="41.10" y="15.30" text-anchor="end">100</text>
<text x="45.10" y="299.20" text-anchor="middle">1</text>
<text x="111.10" y="299.20" text-anchor="middle">2</text>
<text x="177.10" y="299.20" text-anchor="middle">3</text>
<text x="243.10" y="299.20" text-anchor="middle">4</text>
<text x="309.10" y="299.20" text-anchor="middle">5</text>
<text x="375.10" y="299.20" text-anchor="middle">6</text>
<text x="450.60" y="289.30" text-anchor="end">0</text>
<text x="450.60" y="243.63" text-anchor="end">5</text>
<text x="450.60" y="197.97" text-anchor="end">10</text>
<text x="450.60" y="152.30" text-anchor="end">15</text>
<text x="450.60" y="106.63" text-anchor="end">20</text>
<text x="450.60" y="60.97" text-anchor="end">25</text>
<text x="450.60" y="15.30" text-anchor="end">30</text>
<text x="454.60" y="299.20" text-anchor="middle">1</text>
<text x="520.60" y="299.20" text-anchor="middle">2</text>
<text x="586.60" y="299.20" text-anchor="middle">3</text>
<text x="652.60" y="299.20" text-anchor="middle">4</text>
<text x="718.60" y="299.20" text-anchor="middle">5</text>
<text x="784.60" y="299.20" text-anchor="middle">6</text>
<text x="370.2" y="320" text-anchor="end">x 10</text><text x="371" y="313.3" font-size="7.5">4</text>
<text x="778.9" y="320" text-anchor="end">x 10</text><text x="780" y="313.3" font-size="7.5">4</text>
</g>
<g font-family="Liberation Serif" font-size="11.4" fill="#333">
<text x="145" y="314.1" textLength="126" lengthAdjust="spacingAndGlyphs">Number of M2M devices</text>
<text x="554.4" y="314.1" textLength="126" lengthAdjust="spacingAndGlyphs">Number of M2M devices</text>
<text transform="translate(12.7,190) rotate(-90)" textLength="82.4" lengthAdjust="spacingAndGlyphs">Success Rate(%)</text>
<text transform="translate(428.9,223.6) rotate(-90)" textLength="144.2" lengthAdjust="spacingAndGlyphs">Resource utilization ratio(%)</text>
</g>
<g font-family="Liberation Serif" font-size="19" font-weight="bold" fill="#111">
<text x="184.5" y="342.3" text-anchor="middle"><tspan font-weight="normal">(</tspan>a<tspan font-weight="normal">)</tspan></text>
<text x="594" y="342.3" text-anchor="middle"><tspan font-weight="normal">(</tspan>b<tspan font-weight="normal">)</tspan></text>
</g>
</svg>
</body></html>
